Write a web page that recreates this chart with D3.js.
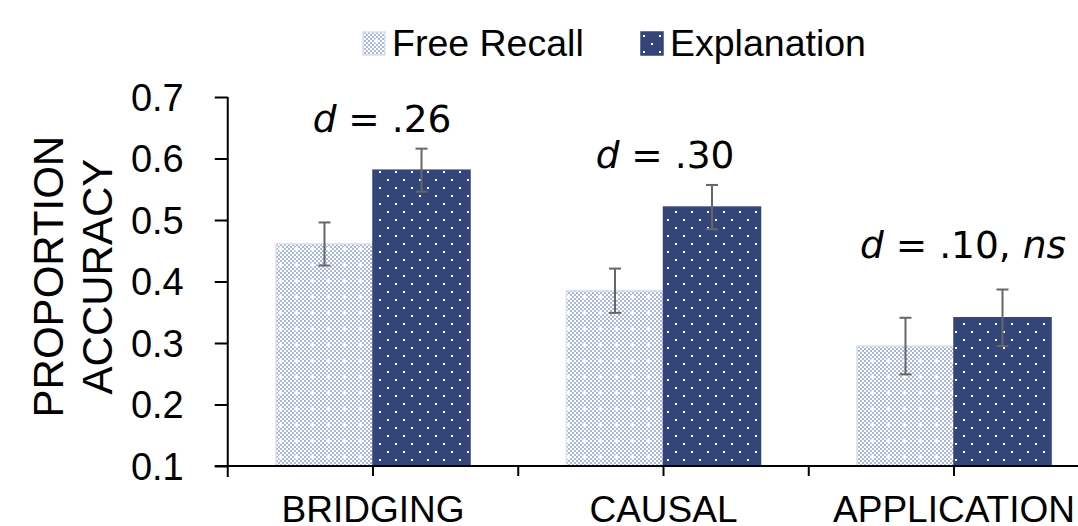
<!DOCTYPE html>
<html>
<head>
<meta charset="utf-8">
<script src="https://cdn.jsdelivr.net/npm/d3@7"></script>
<style>
  html, body { margin: 0; padding: 0; background: #fff; }
  svg { display: block; }
</style>
</head>
<body>
<script>
// ---- data ----
const categories = ["BRIDGING", "CAUSAL", "APPLICATION"];
const seriesNames = ["Free Recall", "Explanation"];
const freeRecall = [0.461, 0.385, 0.295];
const explanation = [0.581, 0.521, 0.341];
const freeRecallErr = [0.035, 0.036, 0.046];
const explanationErr = [0.035, 0.036, 0.046];
const annotations = ["d = .26", "d = .30", "d = .10, ns"];
const annotationY = [0.643, 0.584, 0.438];
const yTicks = [0.1, 0.2, 0.3, 0.4, 0.5, 0.6, 0.7];

const W = 1078, H = 526;
const svg = d3.select("body").append("svg").attr("width", W).attr("height", H);

const axisX0 = 227.75, band = 290.5;
const x = d3.scaleBand().domain(categories).range([axisX0, axisX0 + band * categories.length]).padding(0);
const y = d3.scaleLinear().domain([0.1, 0.7]).range([466, 97]);
const barW = x.bandwidth() * 0.334;
const x1 = d3.scaleBand().domain(seriesNames).range([0, 2 * barW]).padding(0);

// ---- patterns ----
const defs = svg.append("defs");
const pFR = defs.append("pattern").attr("id", "pFR").attr("patternUnits", "userSpaceOnUse")
  .attr("width", 16).attr("height", 16);
pFR.append("rect").attr("width", 16).attr("height", 16).attr("fill", "#ffffff");
for (let i = 0; i < 8; i++) {
  for (let j = 0; j < 8; j++) {
    if ((i + j) % 2 === 0) {
      pFR.append("rect").attr("x", i * 2).attr("y", j * 2).attr("width", 2).attr("height", 2).attr("fill", "#abb8de");
    }
  }
}
pFR.append("rect").attr("x", 6).attr("y", 8).attr("width", 4).attr("height", 2).attr("fill", "#ffffff");
pFR.append("rect").attr("x", 7).attr("y", 7).attr("width", 2).attr("height", 4).attr("fill", "#ffffff");

const pEX = defs.append("pattern").attr("id", "pEX").attr("patternUnits", "userSpaceOnUse")
  .attr("width", 16).attr("height", 16);
pEX.append("rect").attr("width", 16).attr("height", 16).attr("fill", "#34457a");
pEX.append("rect").attr("x", 3).attr("y", 3).attr("width", 2).attr("height", 2).attr("fill", "#ffffff");
pEX.append("rect").attr("x", 11).attr("y", 11).attr("width", 2).attr("height", 2).attr("fill", "#ffffff");

const fills = { "Free Recall": "url(#pFR)", "Explanation": "url(#pEX)" };
const strokes = { "Free Recall": "#d9dff0", "Explanation": "#34457a" };

const rows = [];
categories.forEach((c, i) => {
  rows.push({ cat: c, s: "Free Recall", v: freeRecall[i], e: freeRecallErr[i] });
  rows.push({ cat: c, s: "Explanation", v: explanation[i], e: explanationErr[i] });
});

// ---- bars ----
const gBars = svg.append("g");
gBars.selectAll("rect").data(rows).enter().append("rect")
  .attr("x", d => x(d.cat) + x.bandwidth() / 2 - barW + x1(d.s))
  .attr("y", d => y(d.v))
  .attr("width", x1.bandwidth())
  .attr("height", d => y(0.1) - y(d.v))
  .attr("fill", d => fills[d.s])
  .attr("stroke", d => strokes[d.s])
  .attr("stroke-width", 1.5);

// ---- error bars ----
const gErr = svg.append("g").attr("stroke", "#666").attr("stroke-width", 2).attr("fill", "none");
rows.forEach(d => {
  const cx = x(d.cat) + x.bandwidth() / 2 - barW + x1(d.s) + x1.bandwidth() / 2;
  const t = y(d.v + d.e), b = y(d.v - d.e);
  gErr.append("line").attr("x1", cx).attr("x2", cx).attr("y1", t).attr("y2", b);
  gErr.append("line").attr("x1", cx - 6).attr("x2", cx + 6).attr("y1", t).attr("y2", t);
  gErr.append("line").attr("x1", cx - 6).attr("x2", cx + 6).attr("y1", b).attr("y2", b);
});

// ---- y axis ----
const yAxis = d3.axisLeft(y).tickValues(yTicks).tickSize(13).tickPadding(31).tickFormat(d3.format(".1f"));
const gy = svg.append("g").attr("transform", `translate(${axisX0},0)`).call(yAxis);
gy.select(".domain").remove();
gy.append("line").attr("x1", 0).attr("x2", 0).attr("y1", y(0.7)).attr("y2", 477).attr("stroke", "#000").attr("stroke-width", 2);
gy.selectAll(".tick line").attr("stroke", "#000").attr("stroke-width", 2);
gy.selectAll(".tick text").attr("font-family", "Liberation Sans, Arial, sans-serif")
  .attr("font-size", 38).attr("fill", "#000").attr("dy", "0.35em");

// ---- x axis ----
const gx = svg.append("g").attr("transform", `translate(0,${y(0.1)})`);
gx.append("line").attr("x1", axisX0 - 13).attr("x2", W + 10).attr("y1", 0).attr("y2", 0)
  .attr("stroke", "#000").attr("stroke-width", 2);
const xTickPos = [];
categories.forEach(c => { xTickPos.push(x(c)); xTickPos.push(x(c) + x.bandwidth() / 2); });
gx.selectAll("line.xt").data(xTickPos.slice(1)).enter().append("line").attr("class", "xt")
  .attr("x1", d => d).attr("x2", d => d).attr("y1", 0).attr("y2", 10)
  .attr("stroke", "#000").attr("stroke-width", 2);
gx.selectAll("text").data(categories).enter().append("text")
  .attr("x", d => x(d) + x.bandwidth() / 2)
  .attr("y", 56)
  .attr("text-anchor", "middle")
  .attr("font-family", "Liberation Sans, Arial, sans-serif")
  .attr("font-size", 37)
  .attr("fill", "#000")
  .text(d => d);

// ---- y title ----
const yt = svg.append("text").attr("transform", "translate(63,276.6) rotate(-90)")
  .attr("text-anchor", "middle")
  .attr("font-family", "Liberation Sans, Arial, sans-serif")
  .attr("font-size", 42).attr("fill", "#000");
yt.append("tspan").attr("x", 0).attr("y", 0).text("PROPORTION");
yt.append("tspan").attr("x", 0).attr("y", 48.7).text("ACCURACY");

// ---- annotations ----
const annDx = [9, 1.5, 9];
const gAnn = svg.append("g").attr("font-family", "DejaVu Sans, Verdana, sans-serif").attr("font-size", 37.5).attr("fill", "#000");
annotations.forEach((a, i) => {
  const t = gAnn.append("text")
    .attr("x", x(categories[i]) + x.bandwidth() / 2 + annDx[i])
    .attr("y", y(annotationY[i]))
    .attr("text-anchor", "middle");
  const parts = a.split(/(d|ns)/).filter(p => p.length);
  parts.forEach(p => {
    const ts = t.append("tspan").text(p);
    if (p === "d" || p === "ns") ts.attr("font-style", "italic");
  });
  t.attr("xml:space", "preserve").style("white-space", "pre");
});

// ---- legend ----
const legendItems = [
  { s: "Free Recall", sx: 363, tx: 392 },
  { s: "Explanation", sx: 641, tx: 670 }
];
const gLeg = svg.append("g");
legendItems.forEach(l => {
  gLeg.append("rect").attr("x", l.sx).attr("y", 32).attr("width", 22).attr("height", 23)
    .attr("fill", fills[l.s]).attr("stroke", strokes[l.s]).attr("stroke-width", 1.5);
  gLeg.append("text").attr("x", l.tx).attr("y", 56)
    .attr("font-family", "Liberation Sans, Arial, sans-serif").attr("font-size", 37.5).attr("fill", "#000")
    .text(l.s);
});
</script>
</body>
</html>
